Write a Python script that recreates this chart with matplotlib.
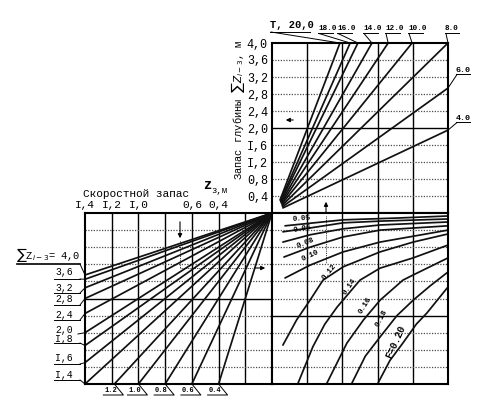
import matplotlib.pyplot as plt

W, H = 493, 411
plt.rcParams['font.family'] = ['Liberation Mono', 'DejaVu Sans Mono']

# верхний правый квадрант: линии T
t_labels = ['Т, 20,0', '18.0', '16.0', '14.0', '12.0', '10.0', '8.0', '6.0', '4.0']
t_start_u = [0.23, 0.24, 0.25, 0.26, 0.27, 0.28, 0.29, 0.30, 0.31]
t_start_d = [0.31, 0.29, 0.27, 0.25, 0.23, 0.21, 0.18, 0.15, 0.12]
t_end_u = [1.93, 2.22, 2.44, 2.84, 3.30, 3.98, 5.0, 5.0, 5.0]
t_end_d = [4.0, 4.0, 4.0, 4.0, 4.0, 4.0, 4.0, 2.94, 1.95]

depth_ticks = [4.0, 3.6, 3.2, 2.8, 2.4, 2.0, 1.6, 1.2, 0.8, 0.4]
depth_ticklabels = ['4,0', '3,6', '3,2', '2,8', '2,4', '2,0', 'I,6', 'I,2', '0,8', '0,4']

# нижний левый квадрант: скоростной запас
speed_ticks = [1.4, 1.2, 1.0, 0.6, 0.4]
speed_ticklabels = ['I,4', 'I,2', 'I,0', '0,6', '0,4']
left_labels = ['4,0', '3,6', '3,2', '2,8', '2,4', '2,0', 'I,8', 'I,6', 'I,4']
left_end_depth = [1.45, 1.55, 1.75, 2.0, 2.35, 2.8, 3.1, 3.5, 4.0]
bottom_labels = ['1.2', '1.0', '0.8', '0.6', '0.4']
bottom_end_speed = [1.18, 1.0, 0.8, 0.6, 0.4]

# нижний правый квадрант: кривые F
f_labels = ['', '0.05', '0.06', '0.08', '0.10', '0.12', '0.14', '0.16', '0.18', 'F=0.20']
f_u = [
    [0.37, 2.02, 3.49, 5.0],
    [0.31, 1.08, 2.02, 3.07, 5.0],
    [0.31, 1.08, 2.02, 3.07, 5.0],
    [0.34, 1.08, 2.02, 3.07, 5.0],
    [0.37, 1.08, 2.02, 3.07, 5.0],
    [0.31, 0.70, 1.08, 1.45, 2.02, 3.07, 4.01, 5.0],
    [0.74, 1.16, 1.50, 1.85, 2.50, 3.07, 4.01, 5.0],
    [1.56, 2.13, 2.60, 3.07, 3.72, 4.01, 5.0],
    [2.27, 2.65, 3.07, 3.55, 4.01, 4.50, 5.0],
    [3.01, 3.35, 3.72, 4.10, 4.40, 5.0],
]
f_d = [
    [0.30, 0.16, 0.12, 0.07],
    [0.44, 0.35, 0.23, 0.19, 0.14],
    [0.68, 0.51, 0.37, 0.28, 0.21],
    [1.03, 0.80, 0.56, 0.40, 0.30],
    [1.52, 1.22, 0.91, 0.68, 0.40],
    [3.09, 2.50, 2.04, 1.57, 1.26, 0.91, 0.68, 0.49],
    [3.98, 3.13, 2.60, 2.20, 1.57, 1.29, 1.05, 0.75],
    [3.98, 3.04, 2.50, 2.04, 1.57, 1.45, 1.05],
    [3.98, 3.35, 2.90, 2.40, 2.04, 1.70, 1.38],
    [3.98, 3.45, 3.04, 2.60, 2.34, 1.73],
]

fig = plt.figure(figsize=(W / 100, H / 100), dpi=100)


def frac(x0, y0, x1, y1):
    return [x0 / W, 1 - y1 / H, (x1 - x0) / W, (y1 - y0) / H]


ax_tr = fig.add_axes(frac(272, 43, 448, 213))
ax_bl = fig.add_axes(frac(85, 213, 272, 384))
ax_br = fig.add_axes(frac(272, 213, 448, 384))
ax_tr.set(xlim=(0, 5), ylim=(0, 4))
ax_br.set(xlim=(0, 5), ylim=(4, 0))
ax_bl.set(xlim=(1.4, 0), ylim=(4, 0))

dot = (0, (1, 1.2))
for ax, xs, solid in [(ax_tr, [1, 2, 3, 4], 2.0), (ax_br, [1, 2, 3, 4], 2.4),
                      (ax_bl, [0.2, 0.4, 0.6, 0.8, 1.0, 1.2], 2.0)]:
    for x in xs:
        ax.axvline(x, color='k', lw=1.0)
    for y in depth_ticks[1:]:
        if abs(y - solid) < 1e-6:
            ax.axhline(y, color='k', lw=1.0)
        else:
            ax.axhline(y, color='0.3', lw=0.9, ls=dot)
    for s in ax.spines.values():
        s.set_linewidth(1.5)
    ax.set_xticks([])
    ax.set_yticks([])

ax_tr.set_yticks(depth_ticks, depth_ticklabels, fontsize=8.5)
ax_tr.tick_params(axis='y', length=0, pad=3)
ax_bl.xaxis.tick_top()
ax_bl.set_xticks(speed_ticks, speed_ticklabels, fontsize=8)
ax_bl.tick_params(axis='x', length=0, pad=2)

lk = dict(color='#111111', lw=1.25, solid_capstyle='round')
for su, sd, eu, ed in zip(t_start_u, t_start_d, t_end_u, t_end_d):
    ax_tr.plot([su, eu], [sd, ed], **lk)
for d in left_end_depth:
    ax_bl.plot([0.0, 1.4], [0.0, d], **lk)
for v in bottom_end_speed:
    ax_bl.plot([0.0, v], [0.0, 4.0], **lk)
for u, d in zip(f_u, f_d):
    ax_br.plot(u, d, **lk)

# overlay in pixel coordinates for labels and leaders
ax_o = fig.add_axes([0, 0, 1, 1], zorder=10)
ax_o.set_xlim(0, W)
ax_o.set_ylim(H, 0)
ax_o.axis('off')
ax_o.patch.set_alpha(0)


def px(ax, x, y):
    p = ax.transData.transform((x, y))
    return p[0], H - p[1]


thin = dict(color='k', lw=0.7)

# T labels
t_text = [(270, 25, 7.5), (318, 29, 5.5), (337, 29, 5.5), (363, 29, 5.5), (385, 29, 5.5),
          (408, 29, 5.5), (445, 29, 5.5), (456, 70, 6), (456, 118, 6)]
for lab, (x, y, fs), eu, ed in zip(t_labels, t_text, t_end_u, t_end_d):
    ax_o.text(x, y, lab, fontsize=fs, ha='left', va='center', fontweight='bold')
    ul = y + (7 if fs > 7 else 4.5)
    wdt = 40 if fs > 7 else (15 if len(lab) == 4 else 14)
    ax_o.plot([x, x + wdt], [ul, ul], **thin)
    ex, ey = px(ax_tr, eu, ed)
    ax_o.plot([x + 1, ex], [ul, ey], **thin)

# vertical depth label
ax_o.text(238, 110, 'Запас глубины $\\sum Z_{i-3}$, м', rotation=90, fontsize=7.5,
          ha='center', va='center')

# speed title
ax_o.text(83, 194, 'Скоростной запас', fontsize=8, ha='left', va='center')
ax_o.text(203, 185, 'z', fontsize=10, ha='left', va='center', fontweight='bold')
ax_o.text(211, 190, 'з,м', fontsize=6.5, ha='left', va='center')

# left labels
ax_o.text(16, 255, '$\\sum$Z$_{i-3}$= 4,0', fontsize=7.5, ha='left', va='center')
left_text_y = [256, 272, 288, 299, 315, 330, 339, 358, 375]
left_ul_y = [264, 279, 293, 305, 320, None, 343, 364, 380]
for i, (lab, d) in enumerate(zip(left_labels, left_end_depth)):
    ex, ey = px(ax_bl, 1.4, d)
    if i > 0:
        ax_o.text(55, left_text_y[i], lab, fontsize=7, ha='left', va='center')
    uy = left_ul_y[i]
    if uy is None:
        ax_o.plot([78, ex], [334, ey], **thin)
        continue
    x0 = 17 if i == 0 else 54
    ax_o.plot([x0, 80], [uy, uy], color='k', lw=1.2 if i == 0 else 0.7)
    ax_o.plot([80, ex], [uy, ey], **thin)

# bottom labels
for lab, v in zip(bottom_labels, bottom_end_speed):
    ex, ey = px(ax_bl, v, 4.0)
    ax_o.text(ex - 4, 390, lab, fontsize=5, ha='center', va='center', fontweight='bold')
    ax_o.plot([ex - 11, ex + 9, ex], [395, 395, ey], **thin)

# F labels
f_text = [(302, 219, 5), (302, 229, 10), (306, 243, 22), (310, 256, 25), (329, 272, 50),
          (350, 287, 55), (365, 305, 58), (382, 318, 62), (396, 342, 66)]
for lab, (x, y, r) in zip(f_labels[1:], f_text):
    ax_o.text(x, y, lab, fontsize=5.5 if len(lab) < 5 else 7, rotation=r,
              ha='center', va='center', fontweight='bold')

# example arrows
ap = dict(arrowstyle='-|>', lw=0.8, color='k', mutation_scale=6)
ax_o.annotate('', xy=(326, 199), xytext=(326, 216), arrowprops=ap)
ax_o.plot([326, 326], [216, 263], color='k', lw=0.6, ls=dot)
ax_o.annotate('', xy=(180, 241), xytext=(180, 219), arrowprops=ap)
ax_o.plot([180, 180], [241, 268], color='k', lw=0.6, ls=dot)
ax_o.annotate('', xy=(268, 268), xytext=(252, 268), arrowprops=ap)
ax_o.plot([180, 252], [268, 268], color='k', lw=0.6, ls=dot)
ax_o.annotate('', xy=(283, 120), xytext=(296, 120), arrowprops=ap)

fig.savefig('out.png', dpi=100, facecolor='white')
